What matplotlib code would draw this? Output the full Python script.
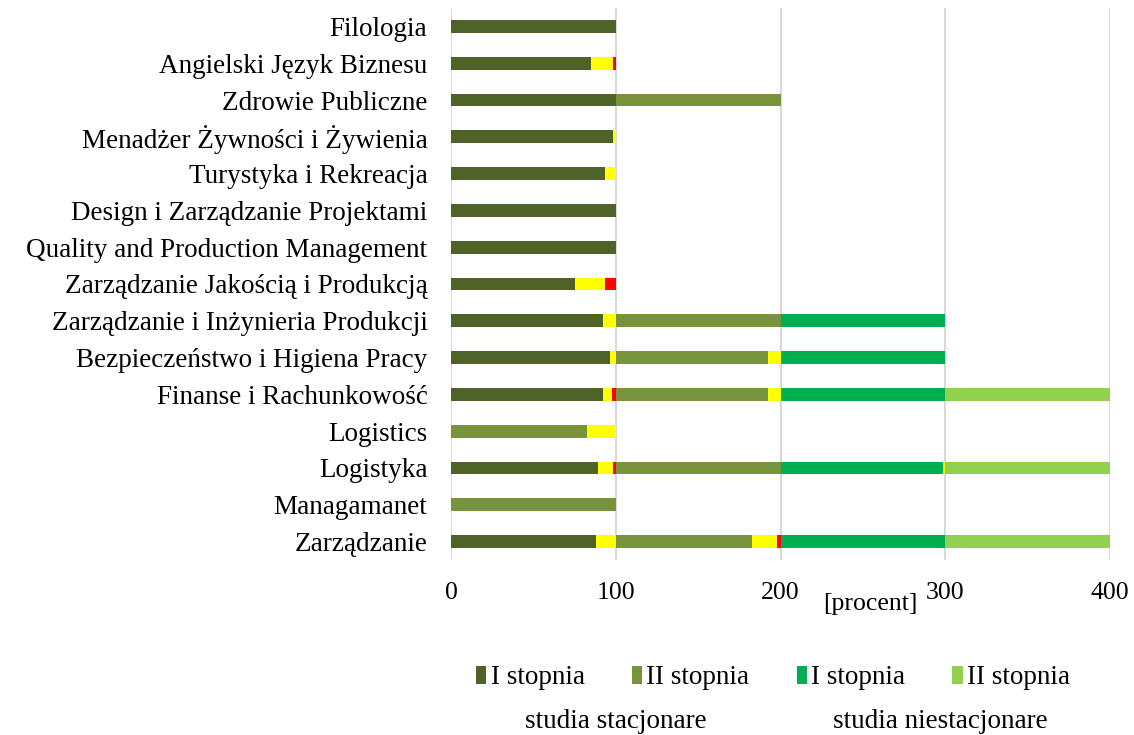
import matplotlib
matplotlib.use("Agg")
import matplotlib.pyplot as plt
from matplotlib.patches import Patch
import numpy as np

plt.rcParams['font.family'] = ['Liberation Serif', 'DejaVu Serif']

categories = [
    "Filologia",
    "Angielski Język Biznesu",
    "Zdrowie Publiczne",
    "Menadżer Żywności i Żywienia",
    "Turystyka i Rekreacja",
    "Design i Zarządzanie Projektami",
    "Quality and Production Management",
    "Zarządzanie Jakością i Produkcją",
    "Zarządzanie i Inżynieria Produkcji",
    "Bezpieczeństwo i Higiena Pracy",
    "Finanse i Rachunkowość",
    "Logistics",
    "Logistyka",
    "Managamanet",
    "Zarządzanie",
]

# studia stacjonarne, I stopnia
stac1_main = [100, 85, 100, 98.6, 93.5, 100, 100, 75.4, 92, 96.8, 92, 0, 89.3, 0, 88]
stac1_yel = [0, 13.5, 0, 1.4, 6.5, 0, 0, 18, 8, 3.2, 6, 0, 8.8, 0, 12]
stac1_red = [0, 1.5, 0, 0, 0, 0, 0, 6.6, 0, 0, 2, 0, 1.9, 0, 0]
# studia stacjonarne, II stopnia
stac2_main = [0, 0, 100, 0, 0, 0, 0, 0, 100, 92.2, 92.2, 82.8, 100, 100, 82.5]
stac2_yel = [0, 0, 0, 0, 0, 0, 0, 0, 0, 7.8, 7.8, 17.2, 0, 0, 15.4]
stac2_red = [0, 0, 0, 0, 0, 0, 0, 0, 0, 0, 0, 0, 0, 0, 2.1]
# studia niestacjonarne, I stopnia
niest1_main = [0, 0, 0, 0, 0, 0, 0, 0, 100, 100, 100, 0, 98.4, 0, 100]
niest1_yel = [0, 0, 0, 0, 0, 0, 0, 0, 0, 0, 0, 0, 1.6, 0, 0]
niest1_red = [0] * 15
# studia niestacjonarne, II stopnia
niest2_main = [0, 0, 0, 0, 0, 0, 0, 0, 0, 0, 100, 0, 100, 0, 100]
niest2_yel = [0] * 15
niest2_red = [0] * 15

legend_labels = ["I stopnia", "II stopnia", "I stopnia", "II stopnia"]
group_labels = ["studia stacjonare", "studia niestacjonare"]
xticks = [0, 100, 200, 300, 400]

c_main = ["#4F6228", "#77933C", "#00B050", "#92D050"]
c_yel = "#FFFF00"
c_red = "#FF0000"

groups = [
    (stac1_main, stac1_yel, stac1_red),
    (stac2_main, stac2_yel, stac2_red),
    (niest1_main, niest1_yel, niest1_red),
    (niest2_main, niest2_yel, niest2_red),
]

fig = plt.figure(figsize=(11.34, 7.35), dpi=100)
ax = fig.add_axes([451 / 1134, 1 - 560 / 735, (1110 - 451) / 1134, (560 - 8) / 735])

y = np.arange(len(categories))
left = np.zeros(len(categories))
h = 0.35
for gi, (m, ye, r) in enumerate(groups):
    for vals, col in ((m, c_main[gi]), (ye, c_yel), (r, c_red)):
        v = np.array(vals, dtype=float)
        ax.barh(y, v, left=left, height=h, color=col, edgecolor='none', zorder=3)
        left = left + v

ax.set_ylim(len(categories) - 0.5, -0.5)
ax.set_xlim(0, 400)
ax.set_yticks(y)
ax.set_yticklabels(categories, fontsize=19.5)
ax.set_xticks(xticks)
ax.set_xticklabels([str(t) for t in xticks], fontsize=18.5)
ax.tick_params(axis='both', length=0)
ax.tick_params(axis='x', pad=16)
ax.tick_params(axis='y', pad=17)
for s in ax.spines.values():
    s.set_visible(False)
ax.grid(axis='x', color='#D9D9D9', linewidth=1.5, zorder=0)
ax.set_axisbelow(True)

fig.text(870 / 1134, 1 - 604 / 735, "[procent]", fontsize=18.5, ha='center', va='center')

handles = [Patch(facecolor=c, edgecolor='none') for c in c_main]
fig.legend(handles, legend_labels, ncol=4, frameon=False, fontsize=19.5,
           loc='center', bbox_to_anchor=(773 / 1134, 1 - 678 / 735),
           handlelength=0.38, handleheight=0.6, handletextpad=0.15, columnspacing=1.75)

fig.text(616 / 1134, 1 - 722 / 735, group_labels[0], fontsize=19.5, ha='center', va='center')
fig.text(940 / 1134, 1 - 722 / 735, group_labels[1], fontsize=19.5, ha='center', va='center')

fig.savefig("out.png", dpi=100, facecolor='white')
